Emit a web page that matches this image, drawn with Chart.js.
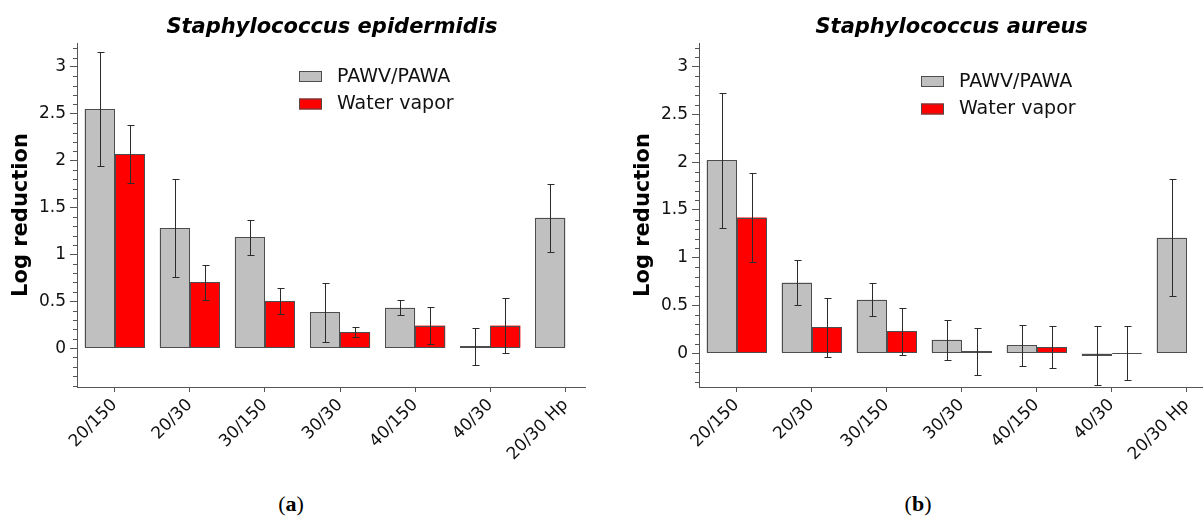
<!DOCTYPE html>
<html>
<head>
<meta charset="utf-8">
<script src="https://cdn.jsdelivr.net/npm/chart.js@4.4.1/dist/chart.umd.min.js"></script>
<style>
  body { margin: 0; background: #fff; }
  #wrap { position: relative; width: 1204px; height: 521px; overflow: hidden; background: #fff; }
  canvas { position: absolute; top: 0; }
  .cap { position: absolute; top: 493px; font: 22px "Liberation Serif", serif; line-height: 1; color: #000; transform: translateX(-50%); }
</style>
</head>
<body>
<div id="wrap">
  <canvas id="chartA" width="600" height="480" style="left:0"></canvas>
  <canvas id="chartB" width="582" height="480" style="left:622px"></canvas>
  <div class="cap" style="left:291px">(<b>a</b>)</div>
  <div class="cap" style="left:918px">(<b>b</b>)</div>
</div>
<script>
// categories and values
const categories = ["20/150", "20/30", "30/150", "30/30", "40/150", "40/30", "20/30 Hp"];
const seriesNames = ["PAWV/PAWA", "Water vapor"];
const yLabels = [0, 0.5, 1, 1.5, 2, 2.5, 3];

// (a) Staphylococcus epidermidis
const epiPawv = [2.55, 1.28, 1.18, 0.38, 0.43, 0.02, 1.39];
const epiPawvErr = [0.61, 0.52, 0.19, 0.31, 0.08, 0.195, 0.36];
const epiVapor = [2.07, 0.70, 0.50, 0.17, 0.24, 0.24, null];
const epiVaporErr = [0.31, 0.19, 0.14, 0.05, 0.195, 0.29, null];

// (b) Staphylococcus aureus
const aurPawv = [2.02, 0.74, 0.56, 0.14, 0.08, -0.025, 1.21];
const aurPawvErr = [0.71, 0.24, 0.17, 0.21, 0.215, 0.31, 0.61];
const aurVapor = [1.42, 0.27, 0.23, 0.02, 0.06, 0, null];
const aurVaporErr = [0.47, 0.31, 0.245, 0.245, 0.22, 0.28, null];

const FONT = '"DejaVu Sans", Verdana, sans-serif';
const AXIS = "#555";
const TEXT = "#111";
const colors = ["#c0c0c0", "#ff0000"];

// bar outlines, error bars, minor ticks, title and legend
const decorPlugin = {
  id: "decor",
  afterDatasetsDraw(chart) {
    const ctx = chart.ctx;
    const yScale = chart.scales.y;
    ctx.save();
    ctx.lineWidth = 1;

    // outlines
    ctx.strokeStyle = "#4d4d4d";
    chart.data.datasets.forEach((ds, di) => {
      const meta = chart.getDatasetMeta(di);
      meta.data.forEach((bar, i) => {
        if (ds.data[i].y == null) return;
        const p = bar.getProps(["x", "y", "base", "width"], true);
        const left = Math.round(p.x - p.width / 2);
        const right = Math.round(p.x + p.width / 2);
        const top = Math.round(Math.min(p.y, p.base));
        const bot = Math.round(Math.max(p.y, p.base));
        ctx.strokeRect(left + 0.5, top + 0.5, right - left - 1, Math.max(bot - top - 1, 0));
      });
    });

    // error bars
    ctx.strokeStyle = "#2b2b2b";
    chart.data.datasets.forEach((ds, di) => {
      const meta = chart.getDatasetMeta(di);
      meta.data.forEach((bar, i) => {
        const v = ds.data[i].y;
        const e = ds.errors[i];
        if (v == null || e == null) return;
        const cx = Math.round(bar.x) + 0.5;
        const top = Math.round(yScale.getPixelForValue(v + e)) + 0.5;
        const bot = Math.round(yScale.getPixelForValue(v - e)) + 0.5;
        ctx.beginPath();
        ctx.moveTo(cx, top);
        ctx.lineTo(cx, bot);
        ctx.moveTo(cx - 3, top);
        ctx.lineTo(cx + 4, top);
        ctx.moveTo(cx - 3, bot);
        ctx.lineTo(cx + 4, bot);
        ctx.stroke();
      });
    });
    ctx.restore();
  },
  afterDraw(chart, args, opts) {
    const ctx = chart.ctx;
    const area = chart.chartArea;
    const yScale = chart.scales.y;
    ctx.save();

    // minor ticks every 0.1
    ctx.strokeStyle = AXIS;
    ctx.lineWidth = 1;
    ctx.beginPath();
    for (let k = Math.ceil(yScale.min * 10); k <= Math.floor(yScale.max * 10); k++) {
      if (k % 5 === 0) continue;
      const py = Math.round(yScale.getPixelForValue(k / 10)) + 0.5;
      ctx.moveTo(area.left - 4, py);
      ctx.lineTo(area.left, py);
    }
    ctx.stroke();

    // title
    ctx.fillStyle = "#000";
    ctx.font = 'italic bold 21px ' + FONT;
    ctx.textAlign = "center";
    ctx.textBaseline = "alphabetic";
    ctx.fillText(opts.title, (area.left + area.right) / 2 + 1, 33);

    // legend
    ctx.font = '19px ' + FONT;
    ctx.textAlign = "left";
    ctx.textBaseline = "middle";
    seriesNames.forEach((name, i) => {
      const by = opts.legendY + i * 27.5;
      ctx.fillStyle = colors[i];
      ctx.fillRect(opts.legendX, by, 23, 11);
      ctx.strokeStyle = "#4d4d4d";
      ctx.strokeRect(opts.legendX + 0.5, by + 0.5, 22, 10);
      ctx.fillStyle = TEXT;
      ctx.fillText(name, opts.legendX + 38, by + 6);
    });
    ctx.restore();
  }
};

function makeChart(id, pawv, pawvErr, vapor, vaporErr, opts) {
  const ds = (label, vals, errs, i) => ({
    label: label,
    data: vals.map((v, k) => ({ x: k, y: v })),
    errors: errs,
    backgroundColor: colors[i],
    borderWidth: 0,
    categoryPercentage: 0.8,
    barPercentage: 1.0
  });

  return new Chart(document.getElementById(id), {
    type: "bar",
    data: {
      datasets: [
        ds(seriesNames[0], pawv, pawvErr, 0),
        ds(seriesNames[1], vapor, vaporErr, 1)
      ]
    },
    options: {
      responsive: false,
      animation: false,
      devicePixelRatio: 1,
      layout: { padding: { top: 43, right: opts.padRight, left: 0, bottom: 0 } },
      plugins: {
        legend: { display: false },
        tooltip: { enabled: false },
        decor: { title: opts.title, legendX: opts.legendX, legendY: opts.legendY }
      },
      scales: {
        x: {
          type: "linear",
          min: -0.5,
          max: opts.xMax,
          offset: false,
          afterBuildTicks: (s) => { s.ticks = categories.map((c, i) => ({ value: i })); },
          afterFit: (s) => { s.height = 93; },
          ticks: {
            autoSkip: false,
            minRotation: 45,
            maxRotation: 45,
            padding: 3,
            color: TEXT,
            font: { family: FONT, size: 17 },
            callback: (v) => categories[v]
          },
          grid: { drawOnChartArea: false, offset: false, tickLength: 5, color: AXIS },
          border: { color: AXIS }
        },
        y: {
          min: opts.yMin,
          max: opts.yMax,
          afterBuildTicks: (s) => { s.ticks = yLabels.map((v) => ({ value: v })); },
          afterFit: (s) => { s.width = 77; },
          ticks: {
            padding: 4,
            color: TEXT,
            font: { family: FONT, size: 17 },
            callback: (v) => String(v)
          },
          grid: { drawOnChartArea: false, tickLength: 7, color: AXIS },
          border: { color: AXIS },
          title: {
            display: true,
            text: "Log reduction",
            color: "#000",
            font: { family: FONT, size: 21, weight: "bold" },
            padding: { top: 9, bottom: 0 }
          }
        }
      }
    },
    plugins: [decorPlugin]
  });
}

makeChart("chartA", epiPawv, epiPawvErr, epiVapor, epiVaporErr, {
  title: "Staphylococcus epidermidis",
  xMax: 6.26, yMin: -0.415, yMax: 3.255, padRight: 15,
  legendX: 299, legendY: 71
});

makeChart("chartB", aurPawv, aurPawvErr, aurVapor, aurVaporErr, {
  title: "Staphylococcus aureus",
  xMax: 6.21, yMin: -0.355, yMax: 3.25, padRight: 0,
  legendX: 299, legendY: 76
});
</script>
</body>
</html>
